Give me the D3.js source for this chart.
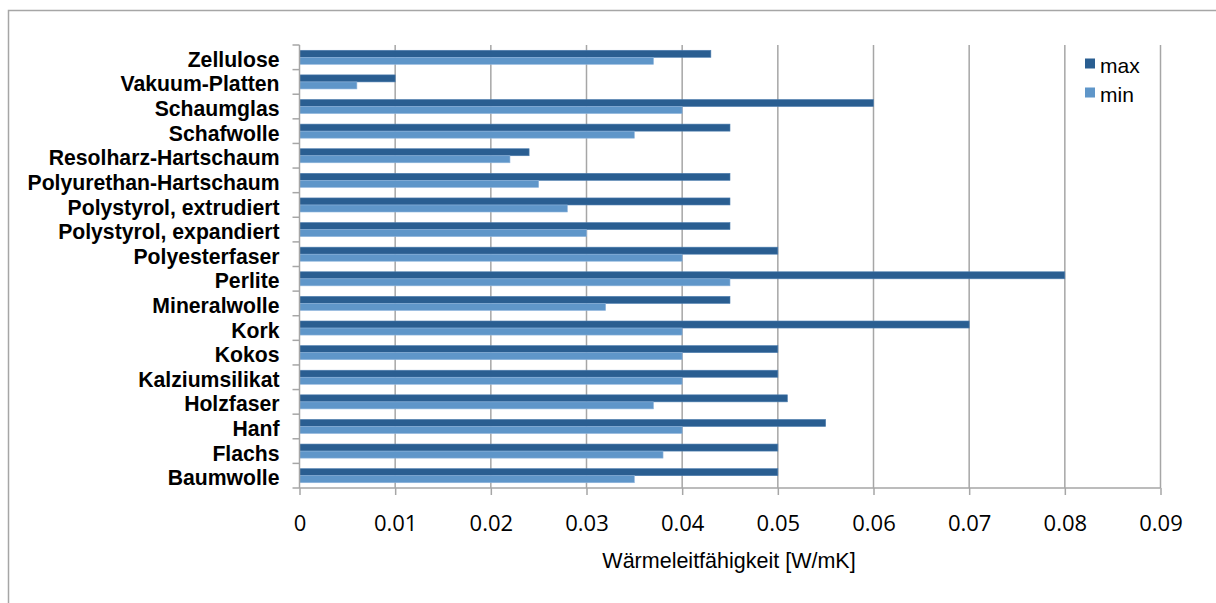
<!DOCTYPE html>
<html>
<head>
<meta charset="utf-8">
<script src="https://cdn.jsdelivr.net/npm/d3@7"></script>
<style>
  html, body { margin: 0; padding: 0; background: #fff; }
  svg { display: block; }
</style>
</head>
<body>
<script>
// Thermal conductivity ranges of insulation materials
const categories = [
  "Baumwolle", "Flachs", "Hanf", "Holzfaser", "Kalziumsilikat", "Kokos", "Kork",
  "Mineralwolle", "Perlite", "Polyesterfaser", "Polystyrol, expandiert",
  "Polystyrol, extrudiert", "Polyurethan-Hartschaum", "Resolharz-Hartschaum",
  "Schafwolle", "Schaumglas", "Vakuum-Platten", "Zellulose"
];
const maxValues = [0.05, 0.05, 0.055, 0.051, 0.05, 0.05, 0.07, 0.045, 0.08, 0.05,
  0.045, 0.045, 0.045, 0.024, 0.045, 0.06, 0.01, 0.043];
const minValues = [0.035, 0.038, 0.04, 0.037, 0.04, 0.04, 0.04, 0.032, 0.045, 0.04,
  0.03, 0.028, 0.025, 0.022, 0.035, 0.04, 0.006, 0.037];
const seriesNames = ["max", "min"];
const xTicks = [0, 0.01, 0.02, 0.03, 0.04, 0.05, 0.06, 0.07, 0.08, 0.09];
const axisTitle = "Wärmeleitfähigkeit [W/mK]";

const W = 1216, H = 603;
const plot = { left: 299.5, right: 1160.5, top: 45, bottom: 488 };
const colors = { max: "#2a5e91", min: "#5f96c9" };
const gridColor = "#a6a6a6";
const sans = "'Liberation Sans', Arial, sans-serif";

const svg = d3.select("body").append("svg").attr("width", W).attr("height", H);

// chart area frame (continues past the right and bottom edges)
svg.append("rect")
  .attr("x", 8.5).attr("y", 10.5).attr("width", W + 20).attr("height", H + 20)
  .attr("fill", "#fff").attr("stroke", "#a6a6a6").attr("stroke-width", 1.5);

const x = d3.scaleLinear().domain([0, 0.09]).range([plot.left, plot.right]);
// first category at the bottom
const y = d3.scaleBand().domain(categories.slice().reverse())
  .range([plot.top, plot.bottom]).paddingInner(0).paddingOuter(0);
const inner = d3.scaleBand().domain(seriesNames)
  .range([0, y.bandwidth()]).paddingInner(0).paddingOuter(0.75);

// vertical gridlines
svg.append("g").selectAll("line")
  .data(xTicks.slice(1))
  .join("line")
  .attr("x1", d => x(d)).attr("x2", d => x(d))
  .attr("y1", plot.top).attr("y2", plot.bottom)
  .attr("stroke", gridColor).attr("stroke-width", 1.5);

// bars
const rows = categories.map((c, i) => ({ c, max: maxValues[i], min: minValues[i] }));
const groups = svg.append("g").selectAll("g")
  .data(rows).join("g")
  .attr("transform", d => `translate(0,${y(d.c)})`);
groups.selectAll("rect")
  .data(d => seriesNames.map(s => ({ s, v: d[s] })))
  .join("rect")
  .attr("x", x(0))
  .attr("y", d => inner(d.s))
  .attr("width", d => x(d.v) - x(0))
  .attr("height", inner.bandwidth())
  .attr("fill", d => colors[d.s])
  .attr("stroke", d => d.s === "max" ? "#4f7fb0" : "#8fb5dc")
  .attr("stroke-width", 0.6);

// x axis
const xAxis = d3.axisBottom(x).tickValues(xTicks).tickSize(7)
  .tickFormat(d => d === 0 ? "0" : d3.format(".2f")(d));
const gx = svg.append("g").attr("transform", `translate(0,${plot.bottom})`).call(xAxis);
gx.select(".domain").attr("stroke", gridColor).attr("stroke-width", 1.5)
  .attr("d", `M${plot.left},0H${plot.right}`);
gx.selectAll(".tick line").attr("stroke", gridColor).attr("stroke-width", 1.5);
gx.selectAll(".tick text")
  .attr("y", 27)
  .attr("fill", "#000")
  .style("font-family", "'Open Sans', sans-serif")
  .style("font-size", "22px");

// y axis
const yAxis = d3.axisLeft(y).tickSize(0).tickPadding(20);
const gy = svg.append("g").attr("transform", `translate(${plot.left},0)`).call(yAxis);
gy.select(".domain").attr("stroke", gridColor).attr("stroke-width", 1.5)
  .attr("d", `M0,${plot.top}V${plot.bottom}`);
gy.selectAll(".tick text")
  .attr("fill", "#000")
  .attr("dy", "0.38em")
  .attr("transform", "translate(0,1.5)")
  .style("font-family", sans)
  .style("font-weight", "bold")
  .style("font-size", "21.2px");
// category separator ticks
const boundaries = d3.range(categories.length + 1).map(i => plot.top + i * y.step());
svg.append("g").selectAll("line")
  .data(boundaries).join("line")
  .attr("x1", plot.left - 7).attr("x2", plot.left)
  .attr("y1", d => d).attr("y2", d => d)
  .attr("stroke", gridColor).attr("stroke-width", 1.5);

// axis title
svg.append("text")
  .attr("x", 729).attr("y", 568)
  .attr("text-anchor", "middle")
  .style("font-family", sans)
  .style("font-size", "21.5px")
  .text(axisTitle);

// legend
const legend = svg.append("g").attr("transform", "translate(1085,0)");
seriesNames.forEach((s, i) => {
  const top = 58.5 + i * 29;
  legend.append("rect").attr("x", 0).attr("y", top).attr("width", 10).attr("height", 10)
    .attr("fill", colors[s]);
  legend.append("text").attr("x", 15).attr("y", top + 14)
    .style("font-family", sans)
    .style("font-size", "21px")
    .text(s);
});
</script>
</body>
</html>
